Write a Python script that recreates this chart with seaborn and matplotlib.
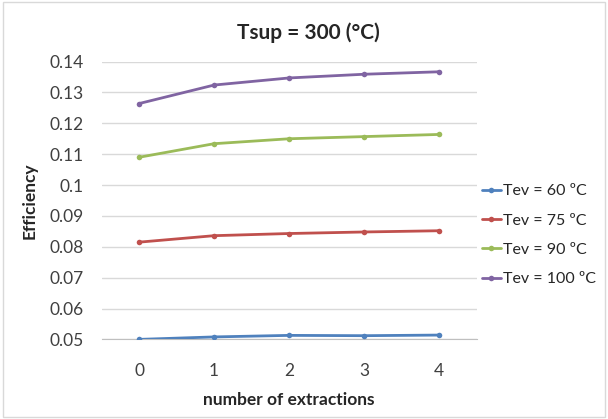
import pandas as pd
import matplotlib.pyplot as plt
import seaborn as sns
from matplotlib.patches import Rectangle

# data
extractions = [0, 1, 2, 3, 4]
tev_60 = [0.0500, 0.0508, 0.0513, 0.0512, 0.0514]
tev_75 = [0.0815, 0.0836, 0.0843, 0.0848, 0.0852]
tev_90 = [0.1090, 0.1134, 0.1150, 0.1157, 0.1164]
tev_100 = [0.1264, 0.1324, 0.1347, 0.1359, 0.1367]
series_names = ['Tev = 60 ºC', 'Tev = 75 ºC', 'Tev = 90 ºC', 'Tev = 100 ºC']
y_ticks = [0.05, 0.06, 0.07, 0.08, 0.09, 0.1, 0.11, 0.12, 0.13, 0.14]
y_labels = ['0.05', '0.06', '0.07', '0.08', '0.09', '0.1', '0.11', '0.12', '0.13', '0.14']

rows = []
for name, vals in zip(series_names, [tev_60, tev_75, tev_90, tev_100]):
    for x, v in zip(extractions, vals):
        rows.append({'n': x, 'eff': v, 'series': name})
df = pd.DataFrame(rows)

sns.set_style('white')
plt.rcParams['font.family'] = ['Lato', 'DejaVu Sans']

fig = plt.figure(figsize=(6.08, 4.19), dpi=100)
ax = fig.add_axes([0.167, 0.19, 0.617, 0.663])

colors = ['#4F81BD', '#C0504D', '#9BBB59', '#8064A2']
sns.lineplot(data=df, x='n', y='eff', hue='series', palette=colors,
             marker='o', markersize=4, markeredgewidth=0, linewidth=2,
             ax=ax, zorder=3)

ax.set_xlim(-0.5, 4.5)
ax.set_ylim(0.05, 0.14)
ax.set_xticks(extractions)
ax.set_xticklabels([str(x) for x in extractions], fontsize=12.5, color='#404040')
ax.set_yticks(y_ticks)
ax.set_yticklabels(y_labels, fontsize=12.5, color='#404040')
ax.tick_params(axis='y', length=0, pad=13)
ax.tick_params(axis='x', length=0, pad=17)
ax.grid(axis='y', color='#D9D9D9', linewidth=1)
for s in ['top', 'right', 'left']:
    ax.spines[s].set_visible(False)
ax.spines['bottom'].set_color('#BFBFBF')

fig.text(0.508, 0.922, 'Tsup = 300 (°C)', fontsize=15, fontweight='bold',
         ha='center', va='center')
ax.set_xlabel('number of extractions', fontsize=12.5, fontweight='bold', labelpad=9)
ax.set_ylabel('Efficiency', fontsize=12.5, fontweight='bold', labelpad=8)

ax.legend(loc='center left', bbox_to_anchor=(0.975, 0.375), frameon=False,
          fontsize=11.5, handlelength=1.2, handletextpad=0.15, labelspacing=0.95)

fig.patches.append(Rectangle((0.005, 0.005), 0.99, 0.99, transform=fig.transFigure,
                             fill=False, edgecolor='#D9D9D9', linewidth=1))

plt.savefig('out.png', dpi=100)
